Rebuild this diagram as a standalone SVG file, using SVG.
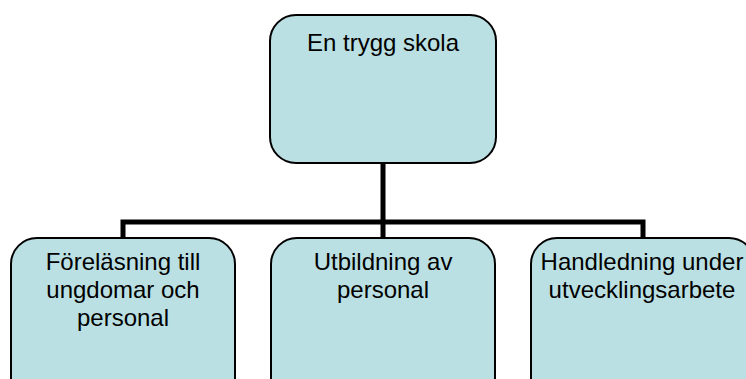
<svg xmlns="http://www.w3.org/2000/svg" width="746" height="379" viewBox="0 0 746 379">
<style>
.box{fill:#bbe0e3;stroke:#000;stroke-width:2}
.t{font-family:"Liberation Sans",Arial,sans-serif;font-size:24px;fill:#000;text-anchor:middle}
.c{fill:none;stroke:#000;stroke-width:5}
</style>
<rect width="746" height="379" fill="#fff"/>
<g id="connectors">
<path class="c" d="M383 164 V238 M123 238 V222 H643 V238"/>
</g>
<g id="root">
<rect class="box" x="270" y="15" width="226" height="148" rx="26"/>
<text class="t" x="383" y="51">En trygg skola</text>
</g>
<g id="n1">
<rect class="box" x="11" y="238" width="224" height="170" rx="26"/>
<text class="t"><tspan x="123" y="270">Föreläsning till</tspan><tspan x="123" y="298">ungdomar och</tspan><tspan x="123" y="326">personal</tspan></text>
</g>
<g id="n2">
<rect class="box" x="271" y="238" width="224" height="170" rx="26"/>
<text class="t"><tspan x="383" y="270">Utbildning av</tspan><tspan x="383" y="298">personal</tspan></text>
</g>
<g id="n3">
<rect class="box" x="531" y="238" width="224" height="170" rx="26"/>
<text class="t"><tspan x="642" y="270">Handledning under</tspan><tspan x="642" y="298">utvecklingsarbete</tspan></text>
</g>
</svg>
